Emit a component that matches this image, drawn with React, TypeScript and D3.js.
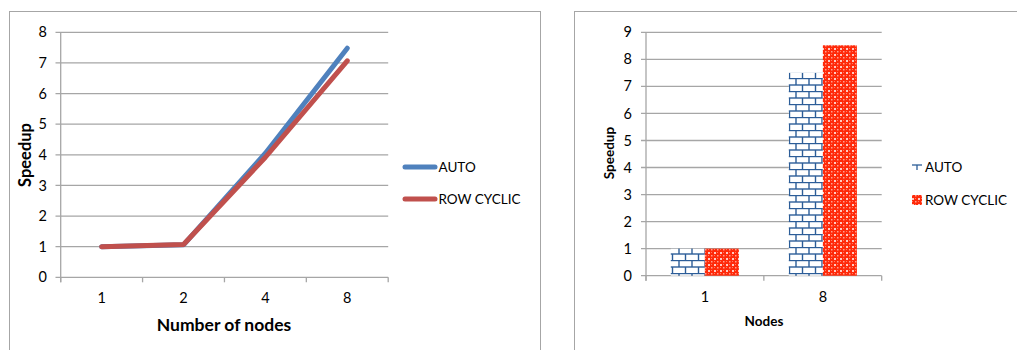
import React from "react";
import * as d3 from "d3";

// ---- data ----
const lineCategories = ["1", "2", "4", "8"];
const autoLine = [1.0, 1.06, 4.05, 7.48];
const rowCyclicLine = [1.0, 1.07, 3.92, 7.07];
const lineYTicks = [0, 1, 2, 3, 4, 5, 6, 7, 8];

const barCategories = ["1", "8"];
const autoBar = [1.0, 7.5];
const rowCyclicBar = [1.0, 8.52];
const barYTicks = [0, 1, 2, 3, 4, 5, 6, 7, 8, 9];

const seriesNames = ["AUTO", "ROW CYCLIC"];

const FONT = "Lato, 'Liberation Sans', sans-serif";
const GRID = "#A6A6A6";
const BLUE = "#4F81BD";
const RED = "#C0504D";
const BRICK = "#2C5D98";

function LineChart() {
  const x = d3.scaleBand<string>().domain(lineCategories).range([60.7, 388.2]).padding(0);
  const y = d3.scaleLinear().domain([0, 8]).range([277.3, 32.3]);
  const cx = (c: string) => (x(c) as number) + x.bandwidth() / 2;
  const line = d3
    .line<number>()
    .x((_, i) => cx(lineCategories[i]))
    .y((d) => y(d));
  const bounds = [...lineCategories.map((c) => x(c) as number), 388.2];
  return (
    <g>
      <rect x={9.5} y={11.5} width={531} height={360} fill="white" stroke="#A6A6A6" strokeWidth={1} />
      {lineYTicks.map((t) => (
        <g key={t}>
          <line x1={55.5} x2={388.2} y1={y(t)} y2={y(t)} stroke={GRID} strokeWidth={1.3} />
          <text x={47} y={y(t)} dy="0.35em" textAnchor="end" fontSize={14.5} fontFamily={FONT} fill="#000">
            {t}
          </text>
        </g>
      ))}
      <line x1={60.7} x2={60.7} y1={y(8)} y2={y(0) + 5} stroke={GRID} strokeWidth={1.3} />
      {bounds.map((b, i) => (
        <line key={i} x1={b} x2={b} y1={y(0)} y2={y(0) + 5} stroke={GRID} strokeWidth={1.3} />
      ))}
      {lineCategories.map((c) => (
        <text key={c} x={cx(c)} y={303} textAnchor="middle" fontSize={14.5} fontFamily={FONT} fill="#000">
          {c}
        </text>
      ))}
      <path d={line(autoLine) || ""} fill="none" stroke={BLUE} strokeWidth={5} strokeLinecap="round" strokeLinejoin="round" />
      <path d={line(rowCyclicLine) || ""} fill="none" stroke={RED} strokeWidth={5} strokeLinecap="round" strokeLinejoin="round" />
      <text x={224} y={331} textAnchor="middle" fontSize={17.5} fontWeight="bold" fontFamily={FONT} fill="#000">
        Number of nodes
      </text>
      <text
        transform="translate(25,155) rotate(-90)"
        textAnchor="middle"
        dy="0.35em"
        fontSize={16.5}
        fontWeight="bold"
        fontFamily={FONT}
        fill="#000"
      >
        Speedup
      </text>
      {seriesNames.map((s, i) => (
        <g key={s}>
          <line
            x1={405}
            x2={435}
            y1={167 + i * 32}
            y2={167 + i * 32}
            stroke={i === 0 ? BLUE : RED}
            strokeWidth={5}
            strokeLinecap="round"
          />
          <text x={438.5} y={167 + i * 32} dy="0.35em" fontSize={13.5} fontFamily={FONT} fill="#000">
            {s}
          </text>
        </g>
      ))}
    </g>
  );
}

function BarChart() {
  const x0 = d3
    .scaleBand<string>()
    .domain(barCategories)
    .range([646, 881.7])
    .paddingInner(0.423)
    .paddingOuter(0.21);
  const x1 = d3.scaleBand<string>().domain(seriesNames).range([0, x0.bandwidth()]);
  const y = d3.scaleLinear().domain([0, 9]).range([275.7, 32.3]);
  const values = [autoBar, rowCyclicBar];
  const r = x0.range();
  const bounds = [r[0], (r[0] + r[1]) / 2, r[1]];
  return (
    <g>
      <rect x={574.5} y={11.5} width={460} height={360} fill="white" stroke="#A6A6A6" strokeWidth={1} />
      {barYTicks.map((t) => (
        <g key={t}>
          <line x1={641} x2={881.7} y1={y(t)} y2={y(t)} stroke={GRID} strokeWidth={1.3} />
          <text x={632} y={y(t)} dy="0.35em" textAnchor="end" fontSize={14.5} fontFamily={FONT} fill="#000">
            {t}
          </text>
        </g>
      ))}
      <line x1={646} x2={646} y1={y(9)} y2={y(0) + 5} stroke={GRID} strokeWidth={1.3} />
      {bounds.map((b, i) => (
        <line key={i} x1={b} x2={b} y1={y(0)} y2={y(0) + 5} stroke={GRID} strokeWidth={1.3} />
      ))}
      {barCategories.map((c, ci) =>
        seriesNames.map((s, si) => (
          <rect
            key={c + s}
            x={(x0(c) as number) + (x1(s) as number)}
            y={y(values[si][ci])}
            width={x1.bandwidth()}
            height={y(0) - y(values[si][ci])}
            fill={si === 0 ? "url(#brick)" : "url(#confetti)"}
          />
        ))
      )}
      {barCategories.map((c) => (
        <text
          key={c}
          x={(x0(c) as number) + x0.bandwidth() / 2}
          y={302}
          textAnchor="middle"
          fontSize={14.5}
          fontFamily={FONT}
          fill="#000"
        >
          {c}
        </text>
      ))}
      <text x={764} y={326} textAnchor="middle" fontSize={13.5} fontWeight="bold" fontFamily={FONT} fill="#000">
        Nodes
      </text>
      <text
        transform="translate(609,153) rotate(-90)"
        textAnchor="middle"
        dy="0.35em"
        fontSize={13.5}
        fontWeight="bold"
        fontFamily={FONT}
        fill="#000"
      >
        Speedup
      </text>
      {/* legend */}
      <line x1={912} x2={922} y1={165} y2={165} stroke={BRICK} strokeWidth={1.3} />
      <line x1={917} x2={917} y1={165} y2={170} stroke={BRICK} strokeWidth={1.3} />
      <text x={925} y={167.7} dy="0.35em" fontSize={13.5} fontFamily={FONT} fill="#000">
        {seriesNames[0]}
      </text>
      <rect x={912} y={195} width={10} height={10} fill="url(#confetti)" />
      <text x={925} y={200} dy="0.35em" fontSize={13.5} fontFamily={FONT} fill="#000">
        {seriesNames[1]}
      </text>
    </g>
  );
}

export default function App() {
  return (
    <svg
      width={1017}
      height={350}
      style={{ position: "absolute", left: 0, top: 0, background: "white" }}
    >
      <defs>
        <pattern id="brick" patternUnits="userSpaceOnUse" width={13} height={13} x={0} y={0}>
          <rect width={13} height={13} fill="white" />
          <line x1={0} x2={13} y1={0.5} y2={0.5} stroke={BRICK} strokeWidth={1.4} />
          <line x1={0} x2={13} y1={7} y2={7} stroke={BRICK} strokeWidth={1.4} />
          <line x1={3} x2={3} y1={0.5} y2={7} stroke={BRICK} strokeWidth={1.4} />
          <line x1={9.5} x2={9.5} y1={7} y2={13} stroke={BRICK} strokeWidth={1.4} />
        </pattern>
        <pattern id="confetti" patternUnits="userSpaceOnUse" width={6} height={6}>
          <rect width={6} height={6} fill="#FF2A0A" />
          <rect x={0} y={0} width={2} height={2} fill="#FFFFFF" opacity={0.75} />
          <rect x={3} y={3} width={1.5} height={1.5} fill="#FFFFFF" opacity={0.55} />
          <rect x={3} y={0} width={1} height={1} fill="#FFB0A0" opacity={0.6} />
          <rect x={0} y={3} width={1} height={1} fill="#FFB0A0" opacity={0.6} />
        </pattern>
      </defs>
      <LineChart />
      <BarChart />
    </svg>
  );
}
